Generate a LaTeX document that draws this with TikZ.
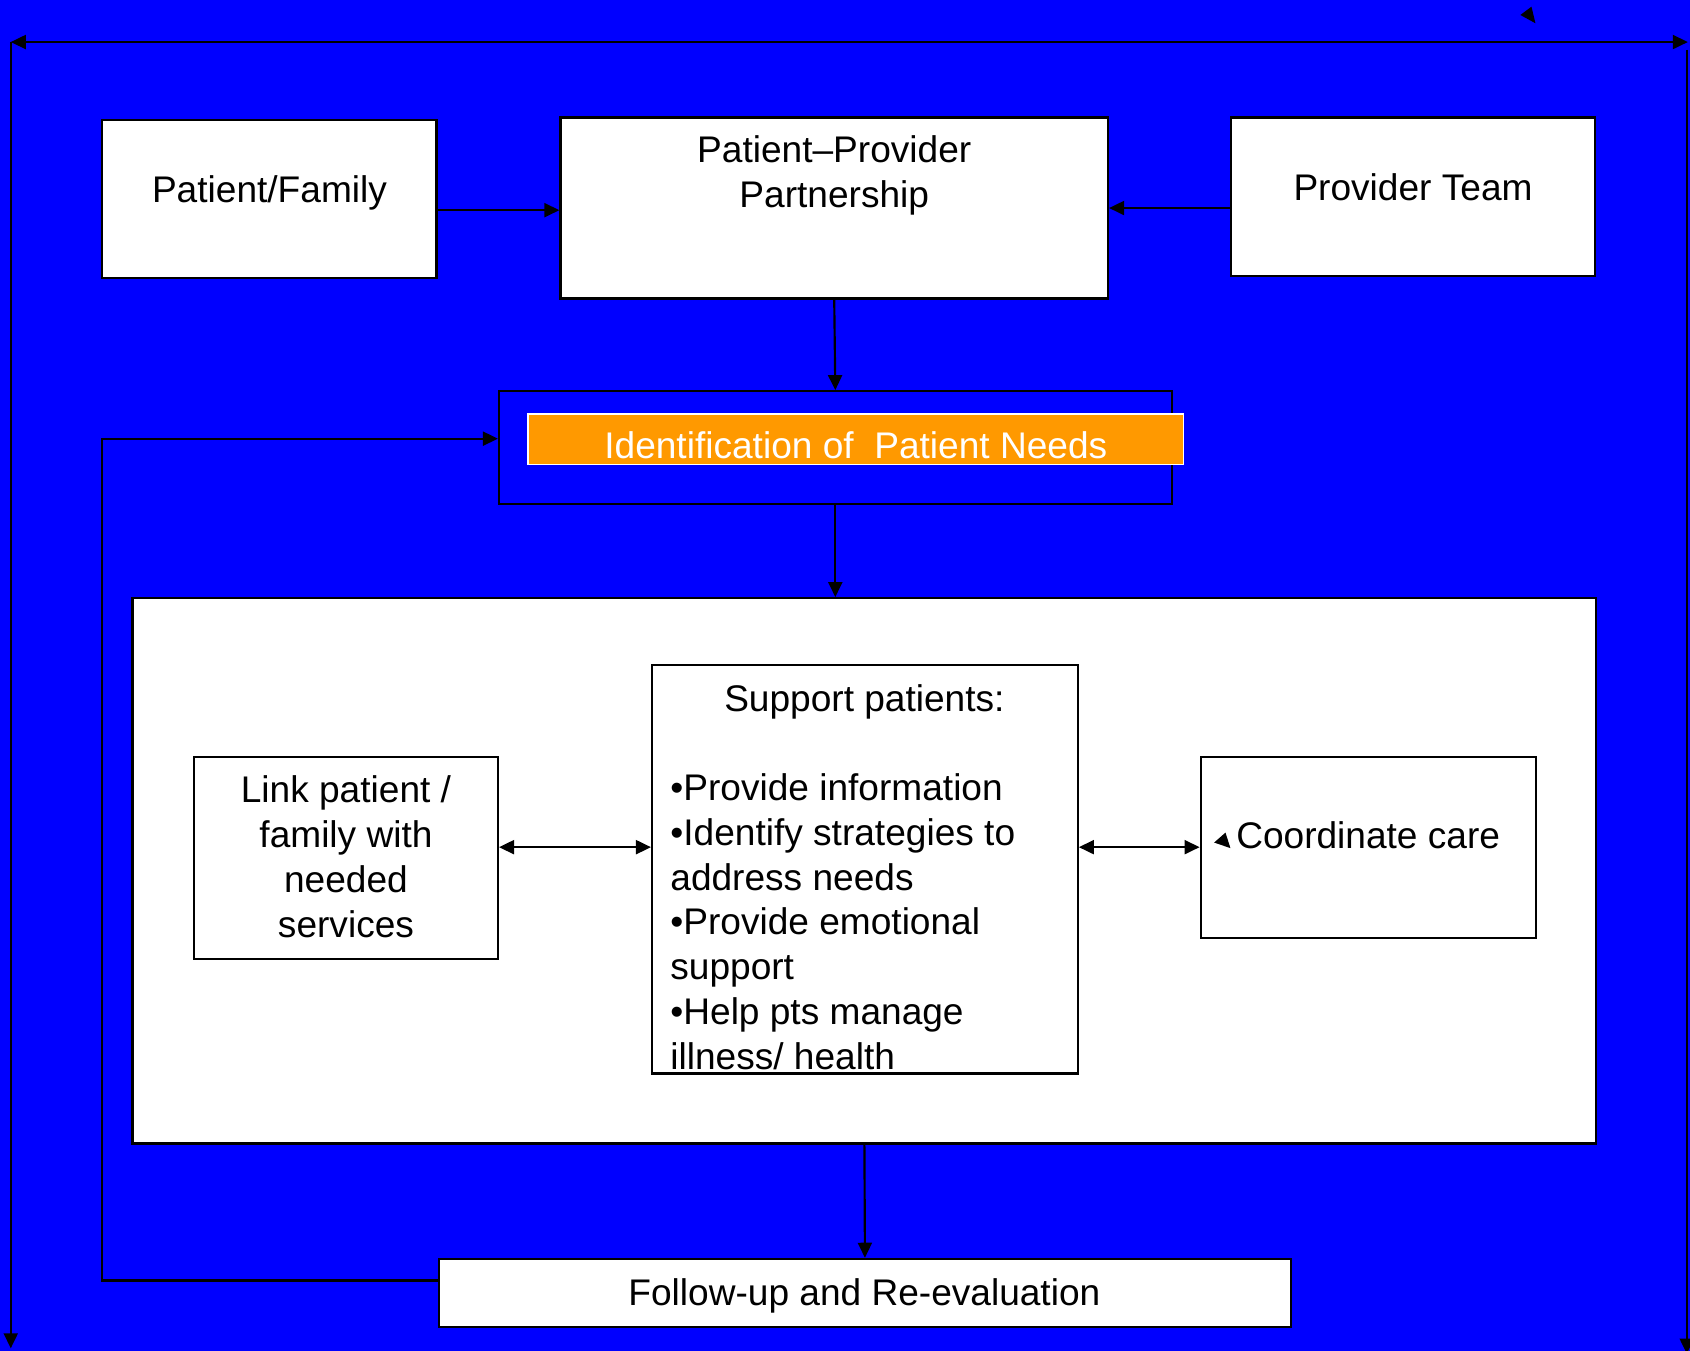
\documentclass[tikz,border=0pt]{standalone}
\usepackage{fontspec}
\setmainfont{Liberation Sans}
\usetikzlibrary{arrows.meta}
\definecolor{bgblue}{HTML}{0000FF}
\definecolor{orangefill}{HTML}{FF9900}
\begin{document}
\begin{tikzpicture}[x=1pt,y=-1pt,
  every node/.style={font=\fontsize{34.4}{41.5}\selectfont},
  box/.style={draw=black,line width=2pt,fill=white,inner sep=0pt},
  txt/.style={inner sep=0pt,outer sep=0pt},
  conn/.style={line width=2pt,-{Triangle[length=14pt,width=13pt]}},
  dconn/.style={line width=2pt,{Triangle[length=14pt,width=13pt]}-{Triangle[length=14pt,width=13pt]}},
  thin conn/.style={line width=2pt}]
\fill[bgblue] (0,0) rectangle (1568,1253);
\useasboundingbox (0,0) rectangle (1568,1253);
% frame lines
\coordinate (tl) at (10,39);
\coordinate (tr) at (1566,39);
\coordinate (bl) at (10,1251);
\coordinate (rt) at (1565,46);
\coordinate (rb) at (1565,1256);
\draw[dconn] (tl) -- (tr);
\draw[conn] (tl) -- (bl);
\draw[conn] (rt) -- (rb);
\fill[black] (1410.6,13.9) -- (1420.9,6.2) -- (1424.6,21.6) -- cycle;
% top boxes
\node[box,minimum width=310pt,minimum height=147pt] (pf) at (250,184.5) {};
\node[txt,anchor=base] (pft) at (250,188) {Patient/Family};
\node[box,minimum width=508pt,minimum height=168pt] (pp) at (774,193) {};
\node[txt,anchor=north,align=center] (ppt) at (774,126) {Patient--Provider\\Partnership};
\node[box,minimum width=338pt,minimum height=147pt] (pt) at (1311,182.5) {};
\node[txt,anchor=base] (ptt) at (1311,186) {Provider Team};
\draw[conn] (pf.east |- 0,195) -- (pp.west |- 0,195);
\draw[conn] (pt.west |- 0,193) -- (pp.east |- 0,193);
% identification
\node[draw=black,line width=2pt,inner sep=0pt,minimum width=624pt,minimum height=105pt] (id) at (775,415.5) {};
\node[draw=white,line width=1.5pt,fill=orangefill,inner sep=0pt,minimum width=608pt,minimum height=47pt] (ob) at (794,407.5) {};
\node[txt,anchor=base,text=white] (idt) at (794,425) {Identification of \ Patient Needs};
\draw[conn] (pp.south) -- (id.north);
% big white box
\node[box,minimum width=1358pt,minimum height=506pt] (big) at (802,808) {};
\draw[conn] (id.south) -- (id.south |- big.north);
\node[box,minimum width=282pt,minimum height=188pt] (lk) at (321,796) {};
\node[txt,anchor=north,align=center] (lkt) at (321,720) {Link patient /\\family with\\needed\\services};
\node[box,minimum width=395pt,minimum height=379pt] (sp) at (802.5,806.5) {};
\node[txt,anchor=base] (spt) at (802,660) {Support patients:};
\node[txt,anchor=north west,align=left] (spl) at (622,718) {•Provide information\\•Identify strategies to\\address needs\\•Provide emotional\\support\\•Help pts manage\\illness/ health};
\node[box,minimum width=311pt,minimum height=168pt] (co) at (1269.5,786) {};
\node[txt,anchor=base west] (cot) at (1147,787) {Coordinate care};
\fill[black] (1126.5,781.7) -- (1137,772.5) -- (1141.6,786.9) -- cycle;
\draw[dconn] (lk.east |- 0,786) -- (sp.west |- 0,786);
\draw[dconn] (sp.east |- co.west) -- (co.west);
% follow-up
\node[box,minimum width=791pt,minimum height=63pt] (fu) at (802.5,1199.5) {};
\node[txt,anchor=base] (fut) at (802,1211) {Follow-up and Re-evaluation};
\draw[conn] (big.south) -- (fu.north);
\draw[conn] (fu.west |- 0,1188) -- (95,1188) -- (95,407) -- (id.west |- 0,407);
\end{tikzpicture}
\end{document}
